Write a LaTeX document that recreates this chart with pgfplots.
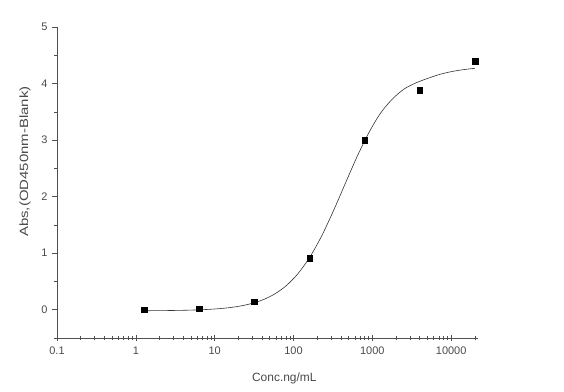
\documentclass[border=0pt]{standalone}
\usepackage{fontspec}
\setmainfont{Liberation Sans}
\usepackage{pgfplots}
\pgfplotsset{compat=1.18}
\definecolor{axgray}{HTML}{505050}
\definecolor{txtgray}{HTML}{4A4A4A}
\begin{document}
\begin{tikzpicture}
\begin{axis}[
  scale only axis,
  width=421bp, height=311bp,
  xmode=log, log basis x=10,
  xmin=0.1, xmax=21900,
  ymin=-0.5, ymax=5,
  axis x line*=bottom, axis y line*=left,
  axis line style={axgray, line width=0.8pt, -},
  xtick={0.1,1,10,100,1000,10000},
  xticklabels={0.1,1,10,100,1000,10000},
  minor xtick={0.2,0.3,0.4,0.5,0.6,0.7,0.8,0.9,2,3,4,5,6,7,8,9,20,30,40,50,60,70,80,90,200,300,400,500,600,700,800,900,2000,3000,4000,5000,6000,7000,8000,9000,20000},
  ytick={0,1,2,3,4,5},
  minor ytick={-0.5,0.5,1.5,2.5,3.5,4.5},
  x tick style={axgray, line width=0.6pt},
  y tick style={axgray, line width=0.6pt},
  xtick align=center, ytick align=outside,
  major tick length=5bp, minor tick length=3bp,
  xtick pos=bottom, ytick pos=left,
  tick label style={font=\fontsize{11}{12}\selectfont, text=txtgray},
  xticklabel style={yshift=-3bp},
  yticklabel style={xshift=-1bp},
  /pgf/number format/assume math mode=true,
  xlabel={Conc.ng/mL},
  ylabel={\scalebox{1.25}[1]{Abs,(OD450nm-Blank)}},
  label style={font=\fontsize{12}{14}\selectfont, text=txtgray},
  xlabel style={at={(axis description cs:0.54,-0.1286)}, anchor=center},
  ylabel style={at={(axis description cs:-0.076,0.567)}, anchor=center},
  clip=false,
]
\addplot[color=black!80, line width=0.6pt, smooth] coordinates {
(1.28,-0.018) (1.778,-0.0165) (2.512,-0.0146) (3.548,-0.0114) (5.012,-0.0067)
(7.079,0.001) (10,0.013) (14.13,0.031) (19.95,0.059) (28.18,0.103)
(39.81,0.169) (56.23,0.269) (79.43,0.416) (112.2,0.627) (158.5,0.915)
(223.9,1.285) (316.2,1.728) (446.7,2.210) (631.0,2.688) (891.3,3.116)
(1259,3.468) (1778,3.72) (2512,3.90) (3548,4.01) (5012,4.09)
(7079,4.16) (10000,4.21) (14130,4.245) (20000,4.27)
};
\addplot[only marks, mark=square*, mark size=2.8bp, color=black] coordinates {
(1.28,0.0) (6.4,0.02) (32,0.14) (160,0.91) (800,3.0) (4000,3.88) (20000,4.39)
};
\end{axis}
\path (current axis.south west) ++(-57bp,-54bp) rectangle ++(564bp,392bp);
\end{tikzpicture}
\end{document}
